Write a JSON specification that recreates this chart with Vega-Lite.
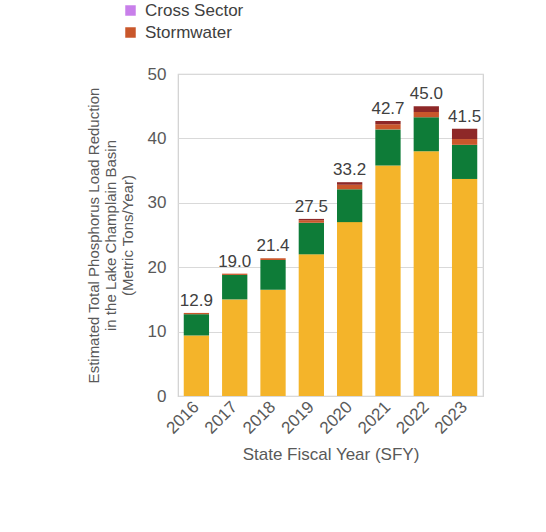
{
  "$schema": "https://vega.github.io/schema/vega-lite/v6.json",
  "autosize": {"type": "none"},
  "width": 305,
  "height": 322,
  "padding": {"left": 178, "top": 74, "right": 63, "bottom": 136},
  "background": "white",
  "config": {
    "font": "Liberation Sans",
    "view": {"stroke": "#d0d0d0", "strokeWidth": 1.2},
    "axis": {"labelFont": "Liberation Sans", "titleFont": "Liberation Sans", "labelColor": "#595959", "titleColor": "#595959", "titleFontWeight": "normal"}
  },
  "data": {
    "values": [
      {"year": "2016", "sector": "Agriculture", "value": 9.4},
      {"year": "2016", "sector": "Natural Resources", "value": 3.3},
      {"year": "2016", "sector": "Stormwater", "value": 0.2},
      {"year": "2017", "sector": "Agriculture", "value": 15.0},
      {"year": "2017", "sector": "Natural Resources", "value": 3.8},
      {"year": "2017", "sector": "Stormwater", "value": 0.2},
      {"year": "2018", "sector": "Agriculture", "value": 16.5},
      {"year": "2018", "sector": "Natural Resources", "value": 4.6},
      {"year": "2018", "sector": "Stormwater", "value": 0.3},
      {"year": "2019", "sector": "Agriculture", "value": 22.0},
      {"year": "2019", "sector": "Natural Resources", "value": 4.9},
      {"year": "2019", "sector": "Stormwater", "value": 0.4},
      {"year": "2019", "sector": "Wastewater", "value": 0.2},
      {"year": "2020", "sector": "Agriculture", "value": 27.0},
      {"year": "2020", "sector": "Natural Resources", "value": 5.1},
      {"year": "2020", "sector": "Stormwater", "value": 0.7},
      {"year": "2020", "sector": "Wastewater", "value": 0.4},
      {"year": "2021", "sector": "Agriculture", "value": 35.8},
      {"year": "2021", "sector": "Natural Resources", "value": 5.6},
      {"year": "2021", "sector": "Stormwater", "value": 0.8},
      {"year": "2021", "sector": "Wastewater", "value": 0.5},
      {"year": "2022", "sector": "Agriculture", "value": 38.0},
      {"year": "2022", "sector": "Natural Resources", "value": 5.3},
      {"year": "2022", "sector": "Stormwater", "value": 0.8},
      {"year": "2022", "sector": "Wastewater", "value": 0.9},
      {"year": "2023", "sector": "Agriculture", "value": 33.7},
      {"year": "2023", "sector": "Natural Resources", "value": 5.3},
      {"year": "2023", "sector": "Stormwater", "value": 0.9},
      {"year": "2023", "sector": "Wastewater", "value": 1.6}
    ]
  },
  "encoding": {
    "x": {
      "field": "year", "type": "nominal",
      "scale": {"paddingInner": 0.34, "paddingOuter": 0.15},
      "axis": {
        "title": "State Fiscal Year (SFY)", "titleFontSize": 17, "titlePadding": 10,
        "labelAngle": -45, "labelAlign": "right", "labelBaseline": "middle", "labelFontSize": 17,
        "labelPadding": 8, "ticks": false, "domain": false
      }
    }
  },
  "layer": [
    {
      "mark": {"type": "bar"},
      "encoding": {
        "y": {
          "aggregate": "sum", "field": "value", "type": "quantitative",
          "scale": {"domain": [0, 50]},
          "axis": {
            "values": [0, 10, 20, 30, 40, 50],
            "title": ["Estimated Total Phosphorus Load Reduction", "in the Lake Champlain Basin", "(Metric Tons/Year)"],
            "titleFontSize": 15, "titleLineHeight": 17, "titlePadding": 12,
            "labelFontSize": 17, "labelPadding": 12,
            "ticks": false, "domain": false,
            "gridColor": "#d9d9d9", "gridWidth": 1.2
          }
        },
        "color": {
          "field": "sector", "type": "nominal",
          "scale": {
            "domain": ["Agriculture", "Cross Sector", "Natural Resources", "Stormwater", "Wastewater"],
            "range": ["#F4B42A", "#C87FEA", "#0E7C38", "#C9572B", "#8E2828"]
          },
          "legend": {
            "orient": "none", "legendX": -56, "legendY": -72,
            "values": ["Cross Sector", "Stormwater"],
            "title": null, "symbolType": "square", "symbolSize": 110, "symbolStrokeWidth": 0,
            "labelFontSize": 17, "labelColor": "#404040", "rowPadding": 4, "labelOffset": 6
          }
        },
        "order": {"field": "sector", "type": "nominal", "sort": "ascending"}
      }
    },
    {
      "transform": [
        {"aggregate": [{"op": "sum", "field": "value", "as": "total"}], "groupby": ["year"]}
      ],
      "mark": {"type": "text", "dy": -12, "fontSize": 17, "color": "#404040", "font": "Liberation Sans"},
      "encoding": {
        "y": {"field": "total", "type": "quantitative"},
        "text": {"field": "total", "type": "quantitative", "format": ".1f"}
      }
    }
  ]
}
